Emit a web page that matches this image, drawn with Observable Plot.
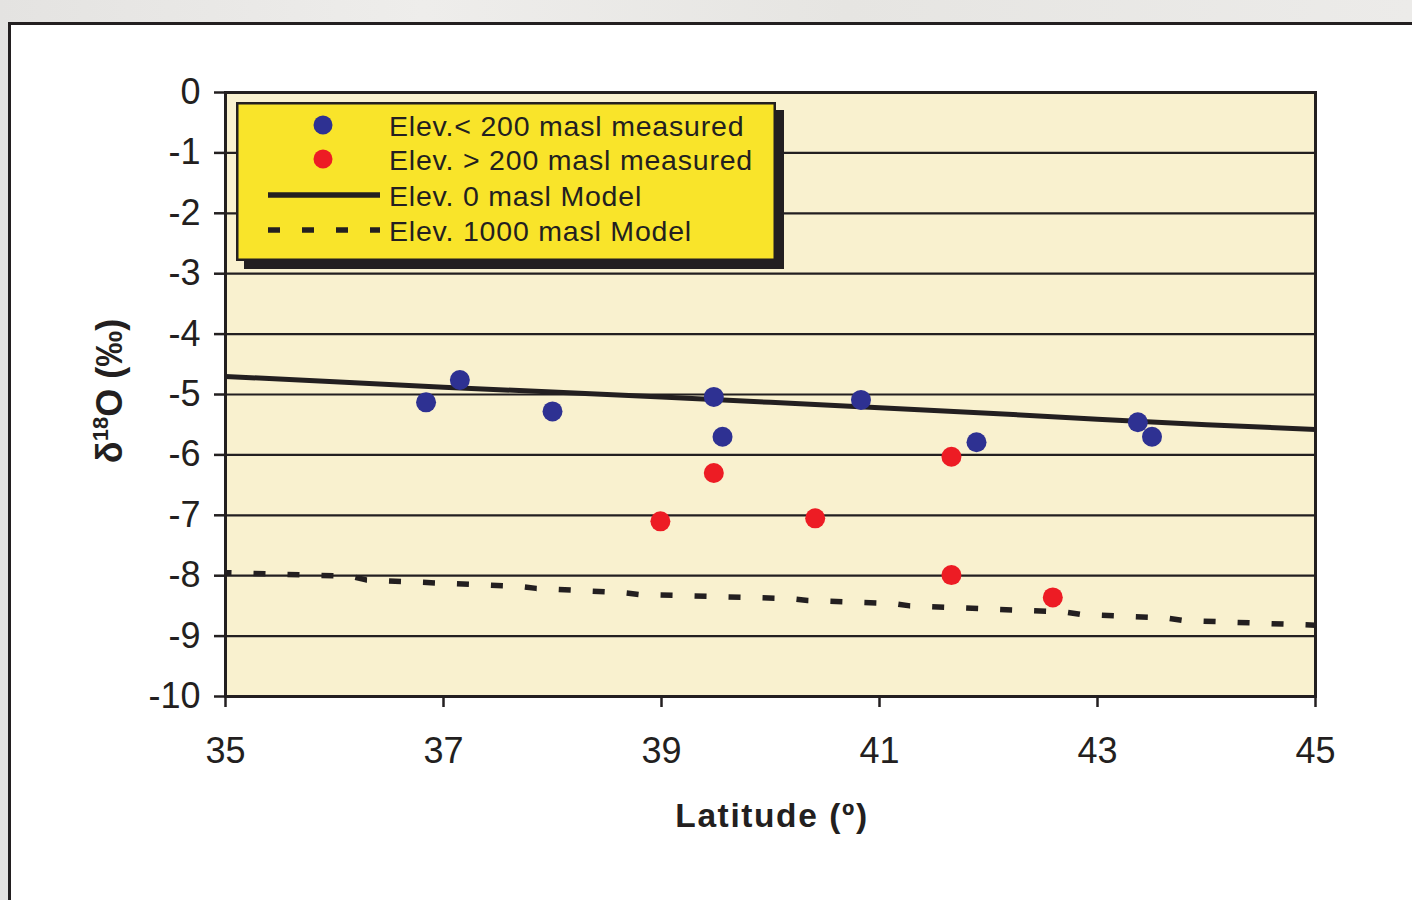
<!DOCTYPE html>
<html><head><meta charset="utf-8">
<script src="https://cdn.jsdelivr.net/npm/d3@7"></script>
<script src="https://cdn.jsdelivr.net/npm/@observablehq/plot@0.6"></script>
<style>
html,body{margin:0;padding:0;}
body{width:1412px;height:900px;overflow:hidden;position:relative;
  background:linear-gradient(90deg,#e4e3e1,#eeedeb 30%,#e6e5e2 60%,#ecebe9);
  font-family:"Liberation Sans",Arial,Helvetica,sans-serif;}
#panel{position:absolute;left:8px;top:22px;width:1500px;height:1000px;background:#fff;border:3px solid #231f20;}
#chart{position:absolute;left:0;top:0;}
#legend{position:absolute;left:236px;top:102px;overflow:visible;}
</style></head><body>
<div id="panel"></div>
<div id="chart"></div>
<svg id="legend" width="560" height="175"></svg>
<script>
// ---- data ----
const latTicks = [35, 37, 39, 41, 43, 45];
const d18OTicks = [0, -1, -2, -3, -4, -5, -6, -7, -8, -9, -10];
const gridValues = [-1, -2, -3, -4, -5, -6, -7, -8, -9];

const lowLat  = [36.84, 37.15, 38.00, 39.48, 39.56, 40.83, 41.89, 43.37, 43.50];
const lowD18O = [-5.13, -4.76, -5.28, -5.04, -5.70, -5.09, -5.79, -5.46, -5.70];

const highLat  = [38.99, 39.48, 40.41, 41.66, 41.66, 42.59];
const highD18O = [-7.10, -6.30, -7.05, -6.03, -7.99, -8.36];

const model0Lat  = [35, 36, 37, 38, 39, 40, 41, 42, 43, 44, 45];
const model0D18O = [-4.70, -4.79, -4.88, -4.96, -5.04, -5.13, -5.22, -5.31, -5.41, -5.50, -5.58];

const model1000Lat  = [35.00, 36.15, 36.29, 37.71, 37.85, 38.64, 38.79, 40.19, 40.34, 41.13, 41.28, 42.70, 42.84, 43.63, 43.78, 45.00];
const model1000D18O = [-7.95, -8.01, -8.07, -8.18, -8.21, -8.28, -8.31, -8.38, -8.41, -8.46, -8.50, -8.60, -8.64, -8.70, -8.74, -8.82];

const legendLabels = ["Elev.< 200 masl measured", "Elev. > 200 masl measured", "Elev. 0 masl Model", "Elev. 1000 masl Model"];
const xTitle = "Latitude (º)";

// ---- styles ----
const ink = "#231f20";
const blue = "#2e3192";
const red = "#ed1c24";
const plotBg = "#f9f1cf";
const legendFill = "#f9e42a";

const toRows = (xs, ys) => xs.map((x, i) => ({x, y: ys[i]}));
const low = toRows(lowLat, lowD18O);
const high = toRows(highLat, highD18O);
const m0 = toRows(model0Lat, model0D18O);
const m1000 = toRows(model1000Lat, model1000D18O);

const chart = Plot.plot({
  width: 1412,
  height: 900,
  marginLeft: 225,
  marginRight: 97,
  marginTop: 92,
  marginBottom: 204,
  style: {background: "transparent", fontSize: "36px", fontFamily: '"Liberation Sans", Arial, sans-serif', color: ink},
  x: {domain: [35, 45], label: null},
  y: {domain: [-10, 0], label: null},
  marks: [
    Plot.frame({fill: plotBg}),
    Plot.ruleY(gridValues, {stroke: ink, strokeWidth: 2.2}),
    Plot.line(m1000, {x: "x", y: "y", stroke: ink, strokeWidth: 5.5, strokeDasharray: "12,22", strokeDashoffset: 6, strokeLinecap: "butt", strokeLinejoin: "miter"}),
    Plot.line(m0, {x: "x", y: "y", stroke: ink, strokeWidth: 5, strokeLinecap: "butt"}),
    Plot.dot(low, {x: "x", y: "y", r: 10, fill: blue}),
    Plot.dot(high, {x: "x", y: "y", r: 10, fill: red}),
    Plot.frame({stroke: ink, strokeWidth: 3}),
    Plot.axisX(latTicks, {tickSize: 11, tickPadding: 30, strokeWidth: 2.5, label: null, tickFormat: d => String(d)}),
    Plot.axisY(d18OTicks, {tickSize: 11, tickPadding: 14, strokeWidth: 2.5, label: null, tickFormat: d => String(d)})
  ]
});
document.getElementById("chart").appendChild(chart);

// axis titles
const svg = d3.select(chart);
svg.append("text")
  .attr("x", 772).attr("y", 827)
  .attr("text-anchor", "middle")
  .attr("font-weight", "bold")
  .attr("font-size", 33.5)
  .attr("letter-spacing", 1.6)
  .attr("fill", ink)
  .text(xTitle);

const yl = svg.append("text")
  .attr("transform", "translate(122,391) rotate(-90)")
  .attr("text-anchor", "middle")
  .attr("font-weight", "bold")
  .attr("font-size", 36)
  .attr("fill", ink);
yl.append("tspan").text("δ");
yl.append("tspan").attr("font-size", 22).attr("dy", -14).text("18");
yl.append("tspan").attr("dy", 14).text("O (‰)");

// legend
const lg = d3.select("#legend");
lg.append("rect").attr("x", 8).attr("y", 8).attr("width", 540).attr("height", 159).attr("fill", ink);
lg.append("rect").attr("x", 1.25).attr("y", 1.25).attr("width", 537.5).attr("height", 156.5)
  .attr("fill", legendFill).attr("stroke", ink).attr("stroke-width", 2.5);
const rowY = [23, 57, 93, 128];
lg.append("circle").attr("cx", 87).attr("cy", rowY[0]).attr("r", 9.5).attr("fill", blue);
lg.append("circle").attr("cx", 87).attr("cy", rowY[1]).attr("r", 9.5).attr("fill", red);
lg.append("line").attr("x1", 32).attr("x2", 144).attr("y1", rowY[2]).attr("y2", rowY[2]).attr("stroke", ink).attr("stroke-width", 5.5);
lg.append("line").attr("x1", 32).attr("x2", 144).attr("y1", rowY[3]).attr("y2", rowY[3]).attr("stroke", ink).attr("stroke-width", 5.5).attr("stroke-dasharray", "12,22");
legendLabels.forEach((t, i) => {
  lg.append("text").attr("x", 153).attr("y", rowY[i] + 11).attr("font-size", 28.5)
    .attr("letter-spacing", 0.8).attr("fill", ink)
    .attr("font-family", '"Liberation Sans", Arial, sans-serif').text(t);
});
</script>
</body></html>
